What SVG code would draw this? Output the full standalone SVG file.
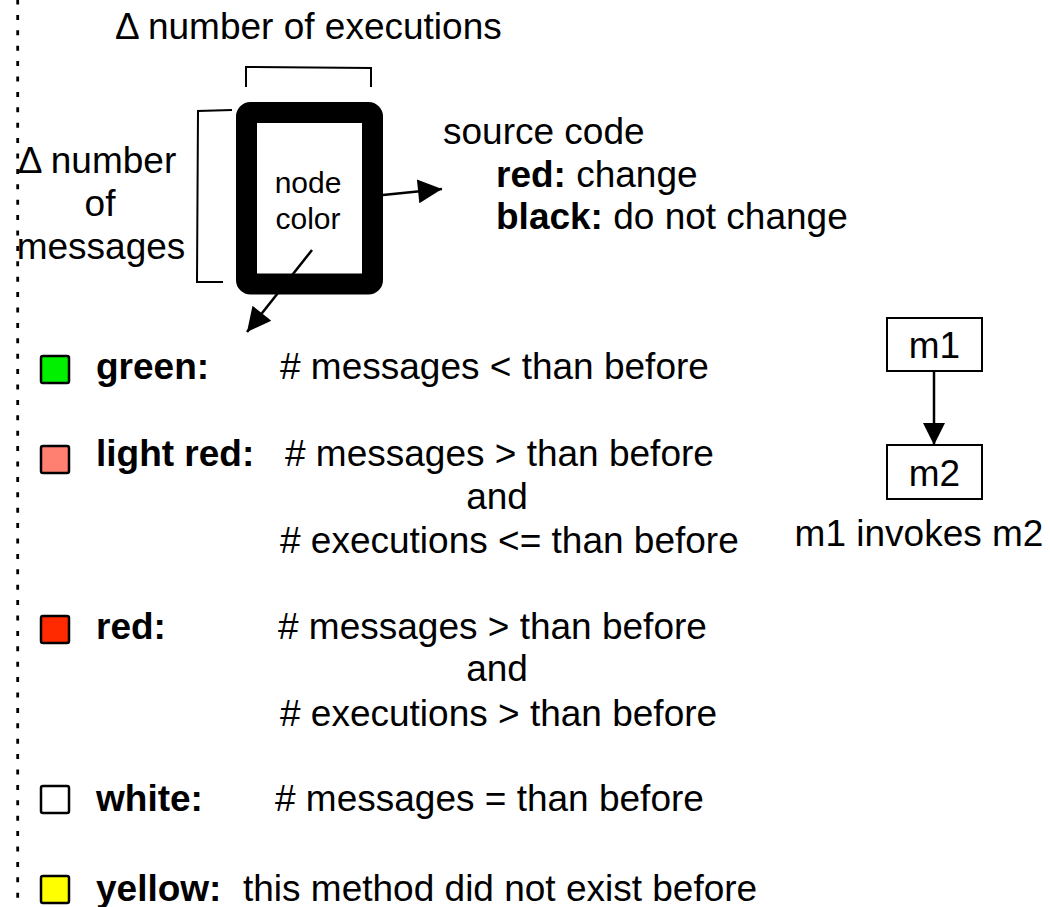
<svg xmlns="http://www.w3.org/2000/svg" width="1050" height="907" viewBox="0 0 1050 907">
  <style>
    text { font-family: "Liberation Sans", Arial, sans-serif; fill: #000; }
    .t { font-size: 37px; }
    .b { font-weight: bold; }
    .sm { font-size: 30px; }
    .ln { fill: none; stroke: #000; stroke-width: 2; }
    .sw { stroke: #000; stroke-width: 2.5; }
    .cn { stroke: #000; stroke-width: 2.5; }
  </style>
  <defs>
    <marker id="ah" viewBox="0 0 10 10" refX="10" refY="5" markerWidth="30" markerHeight="24" markerUnits="userSpaceOnUse" orient="auto">
      <path d="M0,0 L10,5 L0,10 Z" fill="#000"/>
    </marker>
    <marker id="ah2" viewBox="0 0 10 10" refX="10" refY="5" markerWidth="30" markerHeight="22" markerUnits="userSpaceOnUse" orient="auto">
      <path d="M0,0 L10,5 L0,10 Z" fill="#000"/>
    </marker>
  </defs>
  <rect width="1050" height="907" fill="#fff"/>

  <!-- dotted separator on the left -->
  <line x1="17.7" y1="0" x2="17.7" y2="907" stroke="#000" stroke-width="2.8" stroke-dasharray="5 10.4" stroke-dashoffset="0.5"/>

  <!-- legend node: thick border encodes executions / messages -->
  <g id="legend-node">
    <rect x="246.5" y="112.5" width="126" height="171.5" rx="4" fill="#fff" stroke="#000" stroke-width="21"/>
    <text class="sm" x="308" y="193" text-anchor="middle">node</text>
    <text class="sm" x="308" y="229" text-anchor="middle">color</text>
  </g>

  <g id="brackets">
    <path class="ln" d="M246,87 L246,67 L371,68 L371,87"/>
    <path class="ln" d="M232,110 L198,111 L197,282 L223,282"/>
  </g>

  <g id="axis-labels">
    <text class="t" x="115" y="39">Δ number of executions</text>
    <text class="t" x="97" y="173" text-anchor="middle">Δ number</text>
    <text class="t" x="100" y="216" text-anchor="middle">of</text>
    <text class="t" x="101" y="259" text-anchor="middle">messages</text>
  </g>

  <g id="source-code">
    <text class="t" x="443" y="144">source code</text>
    <text class="t" x="496" y="187"><tspan class="b">red:</tspan> change</text>
    <text class="t" x="496" y="229"><tspan class="b">black:</tspan> do not change</text>
  </g>

  <g id="connectors">
    <line class="cn" x1="383" y1="195" x2="442" y2="189" marker-end="url(#ah)"/>
    <line class="cn" x1="312" y1="250" x2="247" y2="332" marker-end="url(#ah)"/>
    <line class="cn" x1="934" y1="371" x2="934" y2="445" marker-end="url(#ah2)"/>
  </g>

  <g id="legend-green">
    <rect class="sw" x="41" y="356" width="28" height="27" rx="2" fill="#00f000"/>
    <text class="t b" x="96" y="379">green:</text>
    <text class="t" x="280" y="379"># messages &lt; than before</text>
  </g>

  <g id="legend-light-red">
    <rect class="sw" x="41" y="446" width="28" height="27" rx="2" fill="#ff8070"/>
    <text class="t b" x="96" y="466">light red:</text>
    <text class="t" x="285" y="466"># messages &gt; than before</text>
    <text class="t" x="497" y="509" text-anchor="middle">and</text>
    <text class="t" x="280" y="553"># executions &lt;= than before</text>
  </g>

  <g id="legend-red">
    <rect class="sw" x="41" y="616" width="28" height="27" rx="2" fill="#ff2a00"/>
    <text class="t b" x="96" y="639">red:</text>
    <text class="t" x="278" y="639"># messages &gt; than before</text>
    <text class="t" x="497" y="681" text-anchor="middle">and</text>
    <text class="t" x="280" y="726"># executions &gt; than before</text>
  </g>

  <g id="legend-white">
    <rect class="sw" x="41" y="786" width="28" height="27" rx="2" fill="#fff"/>
    <text class="t b" x="96" y="811">white:</text>
    <text class="t" x="275" y="811"># messages = than before</text>
  </g>

  <g id="legend-yellow">
    <rect class="sw" x="41" y="876" width="28" height="27" rx="2" fill="#ffff00"/>
    <text class="t b" x="96" y="901">yellow:</text>
    <text class="t" x="243" y="901">this method did not exist before</text>
  </g>

  <g id="m1">
    <rect x="887" y="318" width="95" height="53" fill="#fff" stroke="#000" stroke-width="2"/>
    <text class="t" x="934.5" y="358" text-anchor="middle">m1</text>
  </g>
  <g id="m2">
    <rect x="887" y="445" width="95" height="54" fill="#fff" stroke="#000" stroke-width="2"/>
    <text class="t" x="934.5" y="486" text-anchor="middle">m2</text>
  </g>
  <text class="t" x="919" y="546" text-anchor="middle">m1 invokes m2</text>
</svg>
